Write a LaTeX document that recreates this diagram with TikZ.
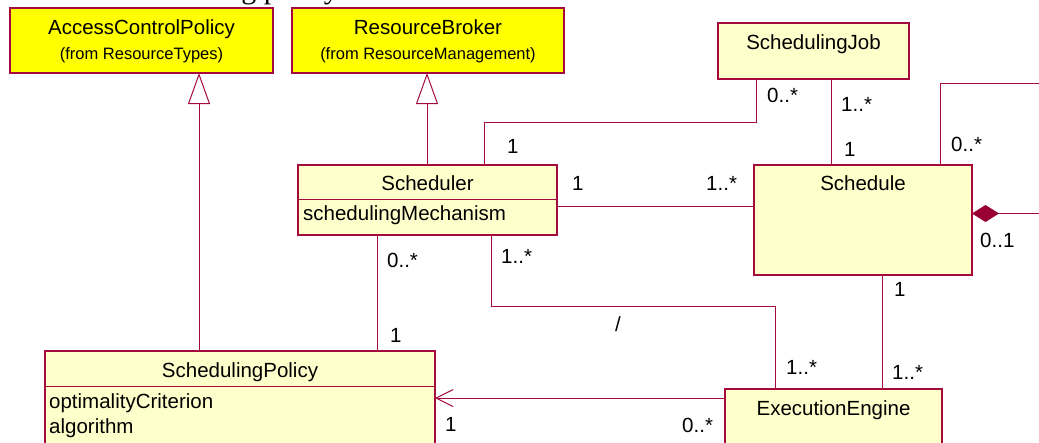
\documentclass[tikz,border=0pt]{standalone}
\usepackage{fontspec}
\setmainfont{Liberation Sans}
\newfontfamily\capfont{Liberation Serif}
\usetikzlibrary{arrows.meta}
\definecolor{umlred}{RGB}{165,10,60}
\definecolor{umldia}{RGB}{153,0,51}
\definecolor{pkgyellow}{RGB}{255,255,0}
\definecolor{clsyellow}{RGB}{255,255,204}
\begin{document}
\begin{tikzpicture}[x=1pt,y=-1pt,
  box/.style={draw=umlred, line width=1.1pt, anchor=north west, inner sep=0pt, outer sep=0pt},
  pkgbox/.style={box, fill=pkgyellow},
  clsbox/.style={box, fill=clsyellow},
  title/.style={anchor=base, inner sep=0pt, font=\fontsize{20.5}{24}\selectfont},
  sub/.style={anchor=base, inner sep=0pt, font=\fontsize{16.5}{20}\selectfont},
  attr/.style={anchor=base west, inner sep=0pt, font=\fontsize{20.5}{24}\selectfont},
  mult/.style={anchor=base west, inner sep=0pt, font=\fontsize{20.5}{24}\selectfont},
  conn/.style={draw=umlred, line width=1pt},
  gen/.style={conn, -{Triangle[open, fill=white, length=31pt, width=22pt]}},
  nav/.style={conn, -{Straight Barb[length=17pt, width=17pt]}},
  comp/.style={conn, -{Diamond[length=27pt, width=17pt, fill=umldia, color=umldia]}},
]
\useasboundingbox (0,0) rectangle (1039,442);
\clip (0,0) rectangle (1039,442);

% caption fragment (cut off at the top edge, as in the reference)
\node[anchor=base east, inner sep=0pt, font=\capfont\fontsize{30}{34}\selectfont] (cap) at (339,-2) {scheduling policy};

% boxes
\node[pkgbox, minimum width=263, minimum height=65] (acp) at (10,8) {};
\node[pkgbox, minimum width=272, minimum height=65] (rb) at (292,8) {};
\node[clsbox, minimum width=191, minimum height=56] (sj) at (718,23) {};
\node[clsbox, minimum width=259, minimum height=70] (sch) at (298,165) {};
\node[clsbox, minimum width=218, minimum height=110] (sched) at (754,165) {};
\node[clsbox, minimum width=390, minimum height=110] (sp) at (45,351) {};
\node[clsbox, minimum width=217, minimum height=72] (ee) at (725,389) {};

% compartment dividers
\coordinate (schdiv) at (0,199);
\coordinate (spdiv) at (0,386);
\draw[conn] (sch.west |- schdiv) -- (sch.east |- schdiv);
\draw[conn] (sp.west |- spdiv) -- (sp.east |- spdiv);

% texts in boxes
\node[title] (acpT) at (141.5,34) {AccessControlPolicy};
\node[sub] (acpS) at (141.5,59) {(from ResourceTypes)};
\node[title] (rbT) at (428,34) {ResourceBroker};
\node[sub] (rbS) at (428,59) {(from ResourceManagement)};
\node[title] (sjT) at (813.5,49.5) {SchedulingJob};
\node[title] (schT) at (427.5,190) {Scheduler};
\node[attr] (schA) at (303,220) {schedulingMechanism};
\node[title] (schedT) at (863,190) {Schedule};
\node[title] (spT) at (240,377) {SchedulingPolicy};
\node[attr] (spA1) at (49,408) {optimalityCriterion};
\node[attr] (spA2) at (49,433) {algorithm};
\node[title] (eeT) at (833.5,415) {ExecutionEngine};

% generalizations
\coordinate (g1) at (199,0);
\coordinate (g2) at (427,0);
\draw[gen] (sp.north -| g1) -- (acp.south -| g1);
\draw[gen] (sch.north -| g2) -- (rb.south -| g2);

% associations
\coordinate (c1) at (756,122);
\coordinate (c2) at (484,122);
\draw[conn] (sj.south -| c1) -- (c1) -- (c2) -- (sch.north -| c2);
\coordinate (c3) at (831,0);
\draw[conn] (sj.south -| c3) -- (sched.north -| c3);
\coordinate (c4) at (940,83);
\coordinate (c5) at (1045,83);
\draw[conn] (sched.north -| c4) -- (c4) -- (c5);
\coordinate (c6) at (1045,213.5);
\draw[comp] (c6) -- (sched.east |- c6);
\coordinate (c7) at (0,206);
\draw[conn] (sch.east |- c7) -- (sched.west |- c7);
\coordinate (c8) at (377,0);
\draw[conn] (sch.south -| c8) -- (sp.north -| c8);
\coordinate (c9) at (491,306);
\coordinate (c10) at (775,306);
\draw[conn] (sch.south -| c9) -- (c9) -- (c10) -- (ee.north -| c10);
\coordinate (c11) at (882,0);
\draw[conn] (sched.south -| c11) -- (ee.north -| c11);
\coordinate (c12) at (0,398);
\draw[nav] (ee.west |- c12) -- (sp.east |- c12);

% multiplicities
\node[mult] (m1) at (767,102) {0..*};
\node[mult] (m2) at (841,111) {1..*};
\node[mult] (m3) at (844,156) {1};
\node[mult] (m4) at (951,151) {0..*};
\node[mult] (m5) at (706,190) {1..*};
\node[mult] (m6) at (980,247) {0..1};
\node[mult] (m7) at (894,296) {1};
\node[mult] (m8) at (507,153) {1};
\node[mult] (m9) at (572,190) {1};
\node[mult] (m10) at (387,267) {0..*};
\node[mult] (m11) at (390,342) {1};
\node[mult] (m12) at (445,431) {1};
\node[mult] (m13) at (501,263) {1..*};
\node[mult] (m14) at (615,331) {/};
\node[mult] (m15) at (786,374) {1..*};
\node[mult] (m16) at (892,379) {1..*};
\node[mult] (m17) at (682,432) {0..*};
\end{tikzpicture}
\end{document}
